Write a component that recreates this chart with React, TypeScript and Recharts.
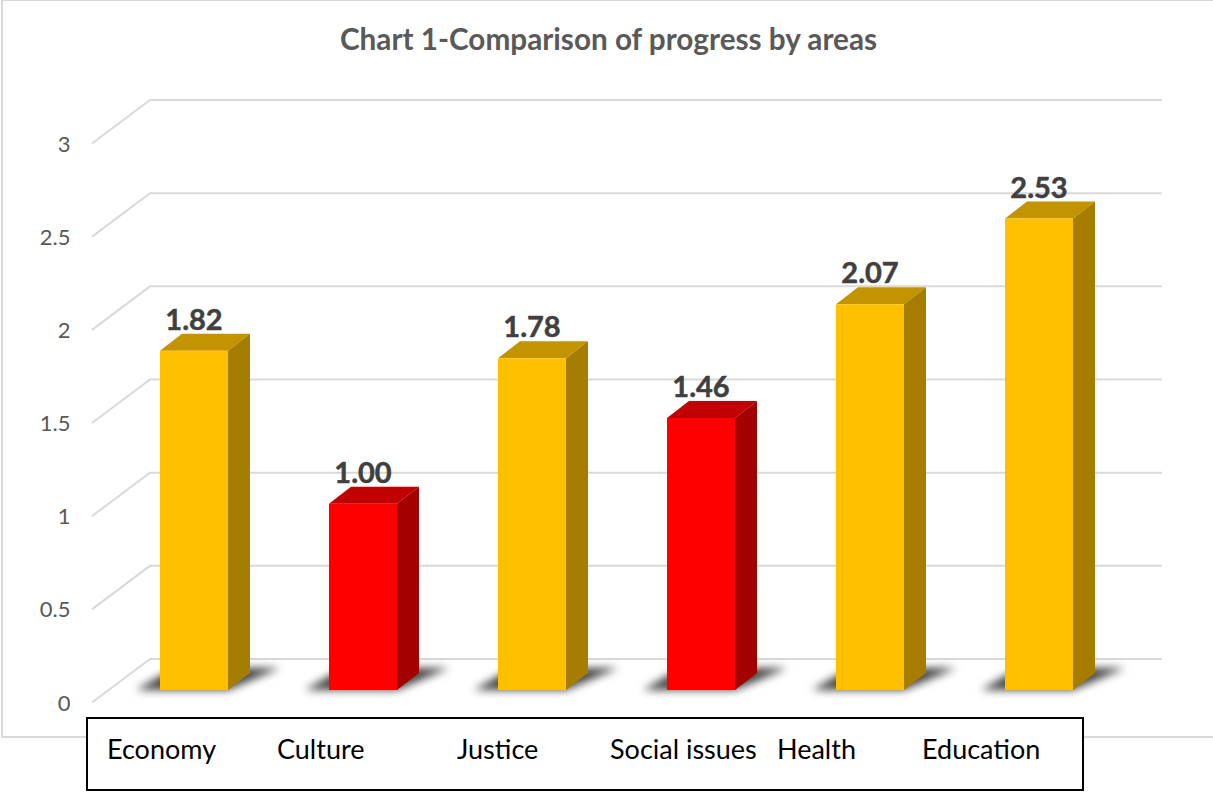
// Chart 1 - faux 3D column chart with recharts
import { BarChart, Bar, XAxis, YAxis, CartesianGrid, LabelList } from 'recharts';

const categories = ['Economy', 'Culture', 'Justice', 'Social issues', 'Health', 'Education'];
const progress = [1.82, 1.0, 1.78, 1.46, 2.07, 2.53];
const barKinds = ['gold', 'red', 'gold', 'red', 'gold', 'gold'];
const yTicks = [0, 0.5, 1, 1.5, 2, 2.5, 3];
// the category names sit in a hand placed text box in the original, not under the bars
const nameLeft = [107, 277, 457, 610, 777, 922];

const chartData = categories.map((name, i) => ({ name, progress: progress[i], kind: barKinds[i] }));

const palette: any = {
  gold: { front: '#FFC000', top: '#C49300', side: '#A67D00' },
  red: { front: '#FF0000', top: '#C20000', side: '#A50000' },
};

const font = 'Lato, sans-serif';
const depthX = 22;
const depthY = 17;

function Bar3D({ x, y, width, height, payload }: any) {
  const c = palette[payload.kind];
  const r = x + width;
  const b = y + height;
  return (
    <g>
      <polygon
        points={`${x - 24},${b} ${r},${b} ${r + 52},${b - 22} ${x + 14},${b - 22}`}
        fill="#444444"
        style={{ filter: 'blur(4px)' }}
      />
      <polygon points={`${x},${y} ${x + depthX},${y - depthY} ${r + depthX},${y - depthY} ${r},${y}`} fill={c.top} />
      <polygon points={`${r},${y} ${r + depthX},${y - depthY} ${r + depthX},${b - depthY} ${r},${b}`} fill={c.side} />
      <rect x={x} y={y} width={width} height={height} fill={c.front} />
    </g>
  );
}

// wall line plus the diagonal down to the axis label, offset from the value position
function WallLine({ y1 }: any) {
  const wallY = y1 - 31;
  return (
    <polyline points={`92,${y1 + 12.5} 150,${wallY} 1162,${wallY}`} fill="none" stroke="#D9D9D9" strokeWidth={2} />
  );
}

function ValueTick({ y, payload }: any) {
  return (
    <text x={70.5} y={y + 20.5} textAnchor="end" fontFamily={font} fontSize={22} fill="#595959">
      {payload.value}
    </text>
  );
}

function NameTick({ y, index, payload }: any) {
  return (
    <text x={nameLeft[index]} y={y + 61} fontFamily={font} fontSize={27} fill="#000">
      {payload.value}
    </text>
  );
}

export default function App() {
  return (
    <div style={{ position: 'absolute', left: 0, top: 0, width: 1213, height: 792, overflow: 'hidden', background: '#fff' }}>
      <div style={{ position: 'absolute', left: 1, top: -1, width: 1300, height: 739, boxSizing: 'border-box', border: '2px solid #D9D9D9' }} />
      <div style={{ position: 'absolute', left: 86, top: 717, width: 998, height: 74, boxSizing: 'border-box', border: '2.5px solid #000', background: '#fff' }} />
      <div style={{ position: 'absolute', left: 0, top: 0 }}>
        <BarChart
          width={1213}
          height={792}
          data={chartData}
          barSize={68}
          margin={{ top: 131, right: 90, bottom: 0, left: 0 }}
        >
          <text x={608.5} y={50} textAnchor="middle" fontFamily={font} fontWeight={700} fontSize={29.7} fill="#595959">
            Chart 1-Comparison of progress by areas
          </text>
          <CartesianGrid vertical={false} horizontal={WallLine} />
          <YAxis
            width={109}
            domain={[0, 3]}
            ticks={yTicks}
            interval={0}
            axisLine={false}
            tickLine={false}
            tick={ValueTick}
          />
          <XAxis dataKey="name" height={102} interval={0} axisLine={false} tickLine={false} tick={NameTick} />
          <Bar dataKey="progress" isAnimationActive={false} shape={Bar3D}>
            <LabelList
              dataKey="progress"
              position="top"
              offset={21}
              formatter={(v: any) => Number(v).toFixed(2)}
              fontFamily={font}
              fontWeight={700}
              fontSize={29}
              fill="#404040"
              stroke="#404040"
              strokeWidth={0.5}
            />
          </Bar>
        </BarChart>
      </div>
    </div>
  );
}
